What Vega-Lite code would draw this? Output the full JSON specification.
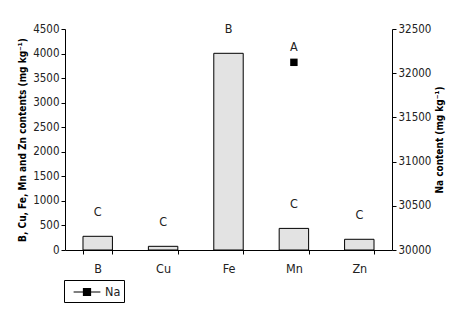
{
  "$schema": "https://vega.github.io/schema/vega-lite/v6.json",
  "autosize": "none",
  "width": 327,
  "height": 221,
  "padding": {"left": 65, "top": 29, "right": 67, "bottom": 67},
  "background": "white",
  "config": {
    "view": {"stroke": null},
    "font": "DejaVu Sans Condensed, Liberation Sans",
    "axis": {"grid": false, "domainColor": "black", "tickColor": "black", "labelColor": "#222", "labelFont": "DejaVu Sans Condensed, Liberation Sans", "labelFontSize": 11.5, "titleFont": "DejaVu Sans Condensed, Liberation Sans", "titleFontSize": 10, "titleFontWeight": "bold", "titleColor": "black"}
  },
  "data": {"values": [
    {"element": "B", "content": 279, "letter": "C"},
    {"element": "Cu", "content": 75, "letter": "C"},
    {"element": "Fe", "content": 4005, "letter": "B"},
    {"element": "Mn", "content": 440, "letter": "C", "na": 32123, "naLetter": "A"},
    {"element": "Zn", "content": 218, "letter": "C"}
  ]},
  "encoding": {
    "x": {"field": "element", "type": "nominal", "sort": null,
      "scale": {"paddingInner": 0.55, "paddingOuter": 0.275},
      "axis": {"title": null, "labelAngle": 0, "tickBand": "extent", "tickSize": 4, "labelPadding": 8, "labelFontSize": 12.5}}
  },
  "layer": [
    {
      "encoding": {"y": {"field": "content", "type": "quantitative",
           "scale": {"domain": [0, 4500]},
           "axis": {"title": "B, Cu, Fe, Mn and  Zn contents (mg kg⁻¹)", "format": "d", "values": [0,500,1000,1500,2000,2500,3000,3500,4000,4500], "tickSize": 4, "labelPadding": 2, "titlePadding": 5}}},
      "layer": [
        {"mark": {"type": "bar", "fill": "#e3e3e3", "stroke": "black", "strokeWidth": 1}},
        {"mark": {"type": "text", "baseline": "bottom", "dy": -17, "fontSize": 12.5, "color": "#222"},
         "encoding": {"text": {"field": "letter"}}}
      ]
    },
    {
      "transform": [{"filter": "datum.na != null"}],
      "encoding": {
           "y": {"field": "na", "type": "quantitative", "scale": {"domain": [30000, 32500]},
             "axis": {"orient": "right", "title": "Na content  (mg kg⁻¹)", "titleAngle": -90, "titleBaseline": "top", "format": "d", "values": [30000,30500,31000,31500,32000,32500], "tickSize": 4, "labelPadding": 2, "titlePadding": 4}}},
      "layer": [
        {"mark": {"type": "point", "shape": "square", "filled": true, "size": 55, "opacity": 1},
         "encoding": {
           "color": {"datum": "Na", "type": "nominal", "scale": {"range": ["black"]},
             "legend": {"title": null, "orient": "none", "legendX": -1, "legendY": 251, "direction": "horizontal",
               "symbolType": "M-1.6,0L1.6,0M-0.42,-0.42L0.42,-0.42L0.42,0.42L-0.42,0.42Z", "symbolSize": 280, "symbolStrokeWidth": 1.2,
               "symbolFillColor": "black", "symbolStrokeColor": "black", "symbolOffset": 11, "labelOffset": 9,
               "labelFontSize": 12.5, "labelColor": "#222",
               "strokeColor": "black", "fillColor": "white", "padding": 3}}
         }},
        {"mark": {"type": "text", "baseline": "bottom", "dy": -8, "fontSize": 12.5, "color": "#222"},
         "encoding": {"text": {"field": "naLetter"}}}
      ]
    }
  ],
  "resolve": {"scale": {"y": "independent"}}
}
